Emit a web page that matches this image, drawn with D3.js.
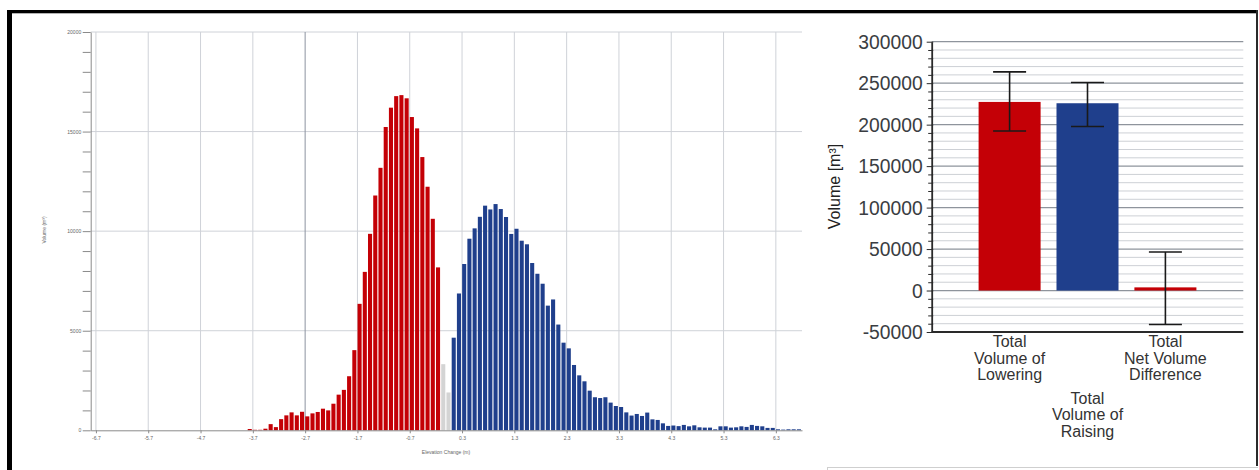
<!DOCTYPE html>
<html>
<head>
<meta charset="utf-8">
<script src="https://cdn.jsdelivr.net/npm/d3@7"></script>
<style>
  html, body { margin: 0; padding: 0; background: #fff; }
  svg { display: block; }
</style>
</head>
<body>
<svg id="chart" width="1259" height="470"></svg>
<script>
// ---------- Histogram: volume per 0.1 m elevation-change bin ----------
const binWidth = 0.1;

// Lowering bins (left edges start at -3.8 m)
const loweringStart = -3.8;
const loweringVolumes = [
  65, 25, 25, 80, 310, 160, 560, 750, 900, 750,
  930, 700, 850, 920, 1085, 1000, 1335, 1790, 2030, 2715,
  4025, 6350, 7955, 9865, 11790, 13180, 15230, 16200, 16780, 16830,
  16670, 15730, 15160, 13720, 12230, 10620, 8180
];

// Bins inside the detection threshold (left edges -0.1 and 0.0)
const thresholdStart = -0.1;
const thresholdVolumes = [3320, 1900];

// Raising bins (left edges start at 0.1 m)
const raisingStart = 0.1;
const raisingVolumes = [
  4650, 6870, 8350, 9620, 10140, 10720, 11280, 11090, 11360, 11110,
  10710, 9860, 10120, 9520, 9340, 8400, 7860, 7360, 6260, 6570,
  5310, 4400, 4115, 3280, 2760, 2460, 1990, 1660, 1620, 1660,
  1390, 1220, 1170, 900, 740, 820, 720, 890, 550, 520,
  350, 220, 240, 210, 270, 200, 250, 150, 135, 135,
  50, 200, 200, 135, 150, 200, 170, 270, 220, 200,
  120, 120, 50, 35, 50, 50, 50
];

const histXTicks = [-6.7, -5.7, -4.7, -3.7, -2.7, -1.7, -0.7, 0.3, 1.3, 2.3, 3.3, 4.3, 5.3, 6.3];
const histYLabels = [0, 5000, 10000, 15000, 20000];

// ---------- Summary bar chart ----------
const summaryCategories = ["lowering", "raising", "net"];
const summaryLabels = [
  ["Total", "Volume of", "Lowering"],
  ["Total", "Volume of", "Raising"],
  ["Total", "Net Volume", "Difference"]
];
const summaryTotals = [227400, 225800, 3800];
const summaryErrLow = [192400, 197700, -41000];
const summaryErrHigh = [263600, 250800, 46500];
const summaryYTicks = [-50000, 0, 50000, 100000, 150000, 200000, 250000, 300000];

const RED = "#c40006";
const BLUE = "#1f3f8c";
const GREY = "#d4d4d4";

const svg = d3.select("#chart");

// ---------- outer frame ----------
svg.append("rect").attr("x", 7).attr("y", 10).attr("width", 5).attr("height", 460).attr("fill", "#000");
svg.append("rect").attr("x", 7).attr("y", 10).attr("width", 1251).attr("height", 3.3).attr("fill", "#000");
svg.append("rect").attr("x", 1256).attr("y", 10).attr("width", 2).attr("height", 456).attr("fill", "#2a2a2a");
svg.append("line").attr("x1", 827).attr("x2", 1258).attr("y1", 467.5).attr("y2", 467.5)
  .attr("stroke", "#cfcfcf").attr("stroke-width", 1);
svg.append("line").attr("x1", 827.5).attr("x2", 827.5).attr("y1", 467).attr("y2", 470)
  .attr("stroke", "#cfcfcf").attr("stroke-width", 1);

// ---------- histogram ----------
const hx = d3.scaleLinear().domain([-6.8, 6.8]).range([90.7, 802]);
const hy = d3.scaleLinear().domain([0, 20000]).range([430.3, 32]);
const hist = svg.append("g");

// grid
hist.append("g").selectAll("line").data(histYLabels.filter(d => d > 0)).join("line")
  .attr("x1", hx(-6.8)).attr("x2", hx(6.8))
  .attr("y1", d => hy(d)).attr("y2", d => hy(d))
  .attr("stroke", "#cfd2d8").attr("stroke-width", 1);
hist.append("g").selectAll("line").data(histXTicks).join("line")
  .attr("x1", d => hx(d)).attr("x2", d => hx(d))
  .attr("y1", hy(20000)).attr("y2", hy(0))
  .attr("stroke", d => d === -2.7 ? "#8d93a0" : "#cfd2d8").attr("stroke-width", 1);

// bars
function binsFrom(start, values, cls) {
  return values.map((v, i) => ({ x0: +(start + i * binWidth).toFixed(2), v, cls }));
}
const allBins = [
  ...binsFrom(loweringStart, loweringVolumes, "low"),
  ...binsFrom(thresholdStart, thresholdVolumes, "thr"),
  ...binsFrom(raisingStart, raisingVolumes, "rise")
];
const barW = (hx(binWidth) - hx(0)) * 0.78;
hist.append("g").selectAll("rect").data(allBins).join("rect")
  .attr("x", d => hx(d.x0) + 0.1)
  .attr("width", barW)
  .attr("y", d => hy(d.v))
  .attr("height", d => hy(0) - hy(d.v))
  .attr("fill", d => d.cls === "low" ? RED : d.cls === "thr" ? GREY : BLUE);

// axes
const yAxisH = d3.axisLeft(hy)
  .tickValues(d3.range(0, 20001, 1000))
  .tickSize(8).tickSizeOuter(0).tickPadding(1.5)
  .tickFormat(d => histYLabels.includes(d) ? String(d) : "");
const gyH = hist.append("g").attr("transform", `translate(${hx(-6.8)},0)`).call(yAxisH);
gyH.select(".domain").attr("stroke", "#8a8a8a");
gyH.selectAll(".tick line").attr("stroke", "#8a8a8a");
gyH.selectAll("text").attr("font-size", 5).attr("font-family", "Liberation Sans, Arial, sans-serif").attr("fill", "#666");

const xAxisH = d3.axisBottom(hx)
  .tickValues(histXTicks).tickSize(3).tickSizeOuter(0).tickPadding(3.5)
  .tickFormat(d => d.toFixed(1));
const gxH = hist.append("g").attr("transform", `translate(0,${hy(0)})`).call(xAxisH);
gxH.select(".domain").attr("stroke", "#8a8a8a");
gxH.selectAll(".tick line").attr("stroke", "#8a8a8a");
gxH.selectAll("text").attr("font-size", 5).attr("font-family", "Liberation Sans, Arial, sans-serif").attr("fill", "#666");

hist.append("text")
  .attr("transform", "translate(46,230) rotate(-90)")
  .attr("text-anchor", "middle")
  .attr("font-size", 5).attr("font-family", "Liberation Sans, Arial, sans-serif").attr("fill", "#666")
  .text("Volume (m³)");
hist.append("text")
  .attr("x", 446).attr("y", 453.5)
  .attr("text-anchor", "middle")
  .attr("font-size", 5).attr("font-family", "Liberation Sans, Arial, sans-serif").attr("fill", "#666")
  .text("Elevation Change (m)");

// ---------- summary bar chart ----------
const vy = d3.scaleLinear().domain([-50000, 300000]).range([332, 41.7]);
const vx = d3.scaleBand().domain(summaryCategories).range([931.7, 1243.3])
  .paddingInner(0.204).paddingOuter(0.602);
const summary = svg.append("g");

const gridVals = d3.range(-40000, 300001, 10000);
summary.append("g").selectAll("line").data(gridVals).join("line")
  .attr("x1", 931.7).attr("x2", 1243.3)
  .attr("y1", d => vy(d)).attr("y2", d => vy(d))
  .attr("stroke", d => d % 50000 === 0 ? "#8e949c" : "#cdd0d5")
  .attr("stroke-width", d => d % 50000 === 0 ? 1.2 : 1);

summary.append("g").selectAll("rect").data(summaryCategories).join("rect")
  .attr("x", d => vx(d))
  .attr("width", vx.bandwidth())
  .attr("y", (d, i) => vy(Math.max(0, summaryTotals[i])))
  .attr("height", (d, i) => Math.abs(vy(summaryTotals[i]) - vy(0)))
  .attr("fill", (d, i) => i === 1 ? BLUE : RED);

// error bars
const capW = 33;
const eb = summary.append("g").attr("stroke", "#1a1a1a").attr("stroke-width", 1.6);
summaryCategories.forEach((c, i) => {
  const cx = vx(c) + vx.bandwidth() / 2;
  eb.append("line").attr("x1", cx).attr("x2", cx).attr("y1", vy(summaryErrLow[i])).attr("y2", vy(summaryErrHigh[i]));
  eb.append("line").attr("x1", cx - capW / 2).attr("x2", cx + capW / 2).attr("y1", vy(summaryErrHigh[i])).attr("y2", vy(summaryErrHigh[i]));
  eb.append("line").attr("x1", cx - capW / 2).attr("x2", cx + capW / 2).attr("y1", vy(summaryErrLow[i])).attr("y2", vy(summaryErrLow[i]));
});

// y axis with major and minor ticks
const yAxisV = d3.axisLeft(vy)
  .tickValues(d3.range(-50000, 300001, 10000))
  .tickSize(0).tickSizeOuter(0).tickPadding(9)
  .tickFormat(d => summaryYTicks.includes(d) ? String(d) : "");
const gyV = summary.append("g").attr("transform", "translate(931.7,0)").call(yAxisV);
gyV.select(".domain").attr("stroke", "#2a2a2a").attr("stroke-width", 1.8);
gyV.selectAll(".tick line")
  .attr("x1", d => d % 50000 === 0 ? -5 : -3.5).attr("x2", 1.5)
  .attr("stroke", "#2a2a2a").attr("stroke-width", 1);
gyV.selectAll("text")
  .attr("font-size", 19.3).attr("font-family", "Liberation Sans, Arial, sans-serif")
  .attr("fill", "#3a3d42").attr("dy", "0.35em");

// bottom axis line
summary.append("line")
  .attr("x1", 931.7).attr("x2", 1243.3).attr("y1", vy(-50000)).attr("y2", vy(-50000))
  .attr("stroke", "#2a2a2a").attr("stroke-width", 2);

// axis title
summary.append("text")
  .attr("transform", "translate(839.5,186.5) rotate(-90)")
  .attr("text-anchor", "middle")
  .attr("font-size", 16).attr("font-family", "Liberation Sans, Arial, sans-serif")
  .attr("fill", "#222")
  .text("Volume [m³]");

// category labels, middle one staggered below
const labelTop = [347.3, 404, 347.3];
summaryCategories.forEach((c, i) => {
  const t = summary.append("text")
    .attr("x", vx(c) + vx.bandwidth() / 2)
    .attr("y", labelTop[i])
    .attr("text-anchor", "middle")
    .attr("font-size", 16).attr("font-family", "Liberation Sans, Arial, sans-serif")
    .attr("fill", "#333");
  summaryLabels[i].forEach((line, j) => {
    t.append("tspan").attr("x", vx(c) + vx.bandwidth() / 2).attr("dy", j === 0 ? 0 : 16.4).text(line);
  });
});
</script>
</body>
</html>
